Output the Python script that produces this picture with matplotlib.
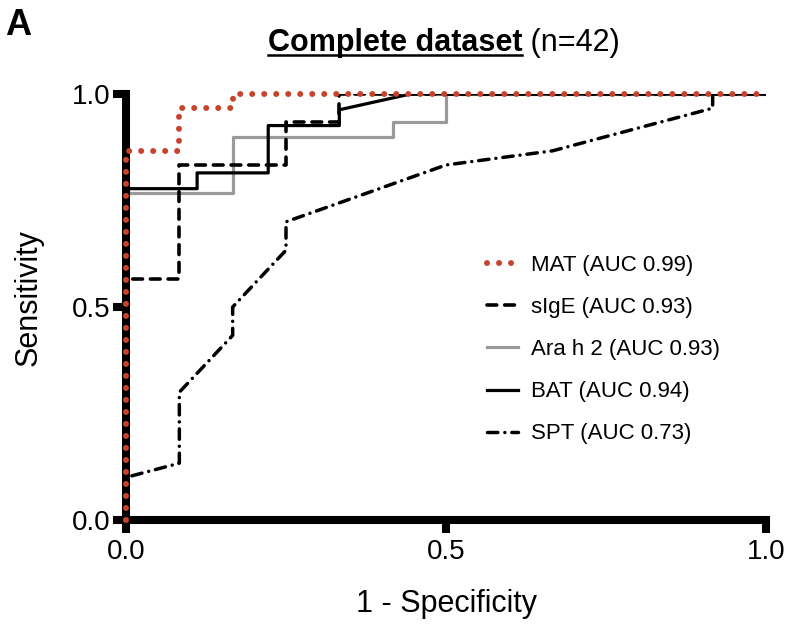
import numpy as np
import matplotlib
matplotlib.use('Agg')
import matplotlib.pyplot as plt
from matplotlib.lines import Line2D

plt.rcParams['font.family'] = ['Liberation Sans', 'DejaVu Sans']

# ROC curves (x = 1 - specificity, y = sensitivity)
mat_fpr = [0, 0, 1/12, 1/12, 2/12, 2/12, 1]
mat_tpr = [0, 26/30, 26/30, 29/30, 29/30, 1, 1]

sige_fpr = [0, 0, 1/12, 1/12, 3/12, 3/12, 4/12, 4/12, 1]
sige_tpr = [0, 17/30, 17/30, 25/30, 25/30, 28/30, 28/30, 1, 1]

ara_fpr = [0, 0, 2/12, 2/12, 5/12, 5/12, 6/12, 6/12, 1]
ara_tpr = [0, 23/30, 23/30, 27/30, 27/30, 28/30, 28/30, 1, 1]

bat_fpr = [0, 0, 1/9, 1/9, 2/9, 2/9, 3/9, 3/9, 4/9, 1]
bat_tpr = [0, 21/27, 21/27, 22/27, 22/27, 25/27, 25/27, 26/27, 1, 1]

spt_fpr = [0, 0, 1/12, 1/12, 2/12, 2/12, 3/12, 3/12, 6/12, 8/12, 11/12, 11/12, 1]
spt_tpr = [0, 3/30, 4/30, 9/30, 13/30, 15/30, 19/30, 21/30, 25/30, 26/30, 29/30, 1, 1]

labels = ['MAT (AUC 0.99)', 'sIgE (AUC 0.93)', 'Ara h 2 (AUC 0.93)',
          'BAT (AUC 0.94)', 'SPT (AUC 0.73)']

red = '#c9432c'

fig = plt.figure(figsize=(7.88, 6.24), dpi=100)
ax = fig.add_axes([126/788, 104/624, 640/788, 426/624])

ax.plot(spt_fpr, spt_tpr, color='black', lw=2.5, linestyle=(0, (3.0, 2.0, 0.01, 2.0)),
        dash_capstyle='round', label=labels[4], zorder=2)
ax.plot(ara_fpr, ara_tpr, color='#9a9a9a', lw=2.3, label=labels[2], zorder=2.1)
ax.plot(bat_fpr, bat_tpr, color='black', lw=2.3, label=labels[3], zorder=2.2)
ax.plot(sige_fpr, sige_tpr, color='black', lw=2.6, linestyle=(0, (2.7, 2.2)),
        dash_capstyle='round', label=labels[1], zorder=2.3)
ax.plot(mat_fpr, mat_tpr, color=red, lw=4.3, linestyle=(0, (0.01, 2.0)),
        dash_capstyle='round', label=labels[0], zorder=3, clip_on=False)

ax.set_xlim(0, 1)
ax.set_ylim(0, 1)
ax.set_xticks([0, 0.5, 1.0])
ax.set_yticks([0, 0.5, 1.0])
ax.set_xticklabels(['0.0', '0.5', '1.0'])
ax.set_yticklabels(['0.0', '0.5', '1.0'])
for s in ['top', 'right']:
    ax.spines[s].set_visible(False)
for s in ['left', 'bottom']:
    ax.spines[s].set_linewidth(5.8)
    ax.spines[s].set_capstyle('projecting')
ax.tick_params(axis='both', direction='out', length=9.5, width=5.8, labelsize=20)
ax.tick_params(axis='y', pad=2)
ax.tick_params(axis='x', pad=4)

ax.set_xlabel('1 - Specificity', fontsize=22)
ax.set_ylabel('Sensitivity', fontsize=22)
ax.xaxis.set_label_coords(0.5, -0.162)
ax.yaxis.set_label_coords(-0.128, 0.523)

# legend in the order shown in the figure
h, l = ax.get_legend_handles_labels()
order = [l.index(x) for x in labels]
ax.legend([h[i] for i in order], [l[i] for i in order], loc='upper left',
          bbox_to_anchor=(0.564, 0.622), frameon=False, fontsize=16,
          handlelength=1.4, handletextpad=0.6, labelspacing=0.95,
          borderpad=0, borderaxespad=0)

# title: bold underlined part + normal part
r = fig.canvas.get_renderer()
t1 = fig.text(0, 0, 'Complete dataset', fontsize=22, fontweight='bold')
t2 = fig.text(0, 0, ' (n=42)', fontsize=22)
w1 = t1.get_window_extent(r).width
w2 = t2.get_window_extent(r).width
xc = 444
x0 = xc - (w1 + w2) / 2
yb = 624 - 51
t1.set_position((x0 / 788, yb / 624))
t2.set_position(((x0 + w1) / 788, yb / 624))
fig.add_artist(Line2D([x0 / 788, (x0 + w1) / 788], [(yb - 4) / 624, (yb - 4) / 624],
                      color='black', lw=1.8, transform=fig.transFigure))

fig.text(5 / 788, 1 - 35 / 624, 'A', fontsize=26, fontweight='bold')

fig.savefig('out.png', dpi=100)
